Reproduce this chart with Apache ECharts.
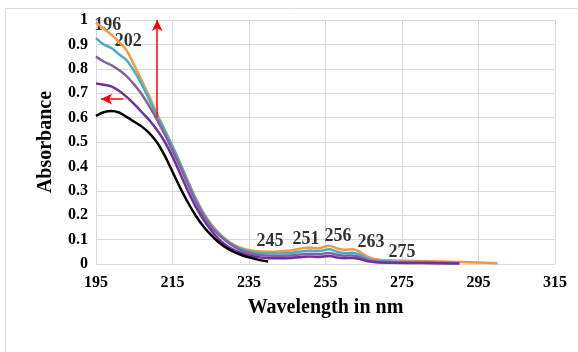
<!DOCTYPE html>
<html>
<head>
<meta charset="utf-8">
<title>Absorbance spectra</title>
<script src="https://cdn.jsdelivr.net/npm/echarts@6/dist/echarts.min.js"></script>
<style>
    html, body { margin: 0; padding: 0; background: #fff; }
    #chart { width: 578px; height: 352px; }
</style>
</head>
<body>
<div id="chart"></div>
<script>
'use strict';

// wavelengths (nm)
var wlLong = [195, 197, 199, 201, 203, 205, 207, 209, 211, 213, 215, 217, 219, 221, 223, 225, 227, 229, 231, 233, 235, 237, 240, 243, 246, 249, 251, 253, 256, 258, 260, 262, 264, 266, 268, 272, 280, 290, 300];
var wlBlack = [195, 197, 199, 201, 203, 205, 207, 209, 211, 213, 215, 217, 219, 221, 223, 225, 227, 229, 231, 233, 235, 237, 240];

var orangeAbs = [0.99, 0.965, 0.94, 0.91, 0.875, 0.815, 0.75, 0.685, 0.615, 0.55, 0.485, 0.415, 0.342, 0.273, 0.213, 0.166, 0.13, 0.101, 0.08, 0.066, 0.057, 0.052, 0.05, 0.052, 0.055, 0.065, 0.068, 0.064, 0.075, 0.064, 0.058, 0.06, 0.05, 0.03, 0.02, 0.015, 0.012, 0.008, 0.003];
var tealAbs = [0.926, 0.9, 0.885, 0.86, 0.835, 0.79, 0.735, 0.67, 0.605, 0.545, 0.48, 0.41, 0.337, 0.268, 0.208, 0.161, 0.125, 0.098, 0.077, 0.062, 0.052, 0.046, 0.043, 0.043, 0.045, 0.052, 0.055, 0.052, 0.06, 0.05, 0.045, 0.046, 0.038, 0.022, 0.014, 0.01, 0.008, 0.005];
var lavenderAbs = [0.85, 0.83, 0.815, 0.795, 0.77, 0.735, 0.695, 0.645, 0.59, 0.53, 0.465, 0.398, 0.327, 0.259, 0.201, 0.155, 0.12, 0.094, 0.072, 0.056, 0.045, 0.038, 0.034, 0.033, 0.035, 0.04, 0.042, 0.04, 0.045, 0.038, 0.034, 0.035, 0.028, 0.016, 0.01, 0.007, 0.005, 0.003];
var purpleAbs = [0.74, 0.735, 0.728, 0.71, 0.685, 0.655, 0.622, 0.588, 0.548, 0.5, 0.44, 0.37, 0.3, 0.237, 0.184, 0.14, 0.103, 0.077, 0.058, 0.045, 0.035, 0.029, 0.024, 0.024, 0.025, 0.029, 0.031, 0.029, 0.033, 0.027, 0.024, 0.025, 0.02, 0.011, 0.007, 0.005, 0.004, 0.002];
var blackAbs = [0.607, 0.622, 0.627, 0.621, 0.603, 0.583, 0.563, 0.535, 0.497, 0.443, 0.378, 0.313, 0.253, 0.2, 0.156, 0.12, 0.09, 0.067, 0.05, 0.037, 0.027, 0.019, 0.01];

// peak annotations
var peakText = ['196', '202', '245', '251', '256', '263', '275'];
var peakWl = [198.1, 203.4, 240.5, 249.9, 258.3, 266.9, 275];
var peakAbs = [0.98, 0.914, 0.094, 0.102, 0.115, 0.09, 0.049];

var serif = '"Liberation Serif", "Times New Roman", serif';
var gridColor = '#d9d9d9';

function pairs(xs, ys) {
    var out = [];
    for (var i = 0; i < ys.length; i++) out.push([xs[i], ys[i]]);
    return out;
}

function spectrum(name, color, ys, xs) {
    return {
        name: name,
        type: 'line',
        smooth: 0.3,
        symbol: 'none',
        silent: true,
        lineStyle: { color: color, width: 2.5 },
        data: pairs(xs || wlLong, ys)
    };
}

var arrowSeries = {
    type: 'line',
    data: [],
    silent: true,
    markLine: {
        silent: true,
        symbol: ['none', 'arrow'],
        symbolSize: [8, 11],
        label: { show: false },
        lineStyle: { color: '#ff0000', width: 1.5, type: 'solid' },
        data: [
            [{ coord: [211, 0.6] }, { coord: [211, 1.0] }],
            [{ coord: [202.2, 0.676] }, { coord: [196.3, 0.676] }]
        ]
    }
};

var peakSeries = {
    type: 'scatter',
    symbolSize: 0,
    silent: true,
    label: {
        show: true,
        position: 'inside',
        color: '#000',
        fontFamily: serif,
        fontWeight: 'bold',
        fontSize: 18,
        formatter: function(p) { return p.data[2]; }
    },
    data: peakText.map(function(t, i) { return [peakWl[i], peakAbs[i], t]; })
};

var chart = echarts.init(document.getElementById('chart'), null, { renderer: 'canvas' });

chart.setOption({
    animation: false,
    backgroundColor: '#fff',
    graphic: [{
        type: 'rect',
        shape: { x: 5.5, y: 8.5, width: 600, height: 400 },
        style: { fill: 'none', stroke: gridColor, lineWidth: 1 },
        silent: true
    }],
    grid: { left: 96, right: 23, top: 20, bottom: 88 },
    xAxis: {
        type: 'value',
        min: 195,
        max: 315,
        interval: 20,
        name: 'Wavelength in nm',
        nameLocation: 'middle',
        nameGap: 34,
        nameTextStyle: { fontFamily: serif, fontWeight: 'bold', fontSize: 20, color: '#000' },
        axisLine: { show: true, lineStyle: { color: gridColor } },
        axisTick: { show: false },
        axisLabel: { margin: 11, fontFamily: serif, fontWeight: 'bold', fontSize: 16, color: '#000' },
        splitLine: { show: true, lineStyle: { color: gridColor } }
    },
    yAxis: {
        type: 'value',
        min: 0,
        max: 1,
        interval: 0.1,
        name: 'Absorbance',
        nameLocation: 'middle',
        nameGap: 40,
        nameTextStyle: { fontFamily: serif, fontWeight: 'bold', fontSize: 20, color: '#000' },
        axisLine: { show: true, lineStyle: { color: gridColor } },
        axisTick: { show: false },
        axisLabel: {
            margin: 8,
            fontFamily: serif,
            fontWeight: 'bold',
            fontSize: 16,
            color: '#000',
            formatter: function(v) { return String(Math.round(v * 10) / 10); }
        },
        splitLine: { show: true, lineStyle: { color: gridColor } }
    },
    series: [
        spectrum('orange', '#f79646', orangeAbs),
        spectrum('teal', '#4bacc6', tealAbs),
        spectrum('lavender', '#8064a2', lavenderAbs),
        spectrum('purple', '#7030a0', purpleAbs),
        spectrum('black', '#000000', blackAbs, wlBlack),
        arrowSeries,
        peakSeries
    ]
});
</script>
</body>
</html>
